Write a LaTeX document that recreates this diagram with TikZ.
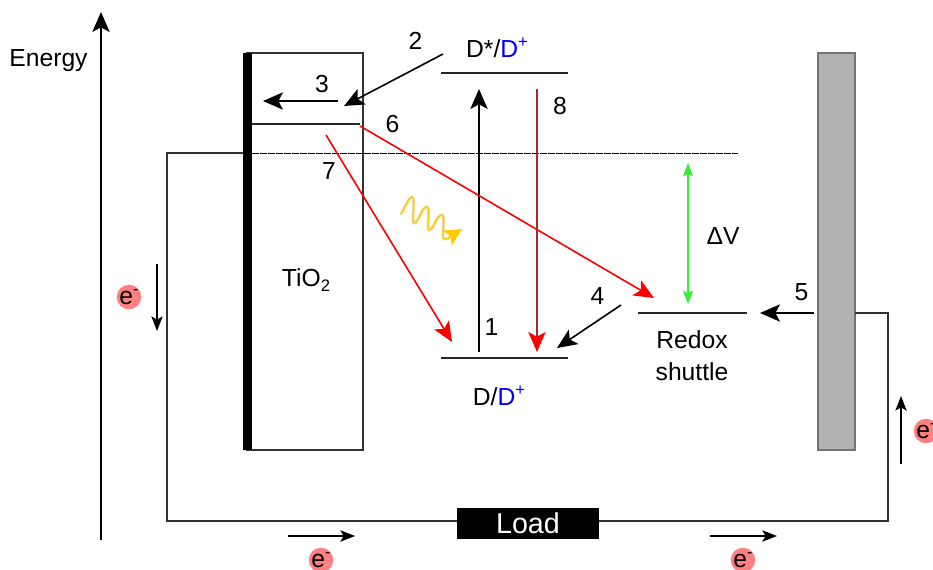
\documentclass[tikz,border=0pt]{standalone}
\usepackage{fontspec}
\setmainfont{Liberation Sans}
\usetikzlibrary{arrows.meta}
\definecolor{dsred}{HTML}{FF0000}
\definecolor{dsbrown}{HTML}{A52A2A}
\definecolor{dsgreen}{HTML}{33EE33}
\definecolor{dsgold}{HTML}{FFCC00}
\definecolor{dssoft}{HTML}{F0DFA0}
\definecolor{dsgray}{HTML}{B2B2B2}
\definecolor{dspink}{HTML}{FF8080}
\tikzset{
  lbl/.style={font=\fontsize{18.5}{24}\selectfont,inner sep=0pt},
  elec/.style={circle,fill=dspink,inner sep=0pt,minimum size=16pt,font=\fontsize{18.5}{19}\selectfont},
  wire/.style={line width=0.85pt,draw=black!80},
  level/.style={line width=0.9pt,draw=black!85},
  bigtip/.style={-{Stealth[length=15pt,width=13pt,inset=3.5pt]}},
  thin tip/.style={-{Stealth[length=11pt,width=8.5pt,inset=2.5pt]}}
}
\newcommand{\eminus}{e\raisebox{0.42em}{\fontsize{12}{12}\selectfont -}}
\newcommand{\dplus}{\textcolor{blue}{D\raisebox{0.42em}{\fontsize{12.5}{12}\selectfont +}}}
\begin{document}
\begin{tikzpicture}[x=0.75pt,y=-0.75pt]
  \useasboundingbox (0,0) rectangle (933,569);
  % levels and boxes
  \node[draw=black!80,line width=0.9pt,minimum width=87pt,minimum height=297.75pt,inner sep=0pt] (tio) at (305,251.5) {};
  \node[fill=black,minimum width=6.75pt,minimum height=297.75pt,inner sep=0pt] (bar) at (247.5,251.5) {};
  \node[draw=black!55,fill=dsgray,line width=0.9pt,minimum width=27.75pt,minimum height=297.75pt,inner sep=0pt] (elect) at (836.5,251.5) {};
  \node[fill=black,text=white,font=\fontsize{21.5}{24}\selectfont,minimum width=106.5pt,minimum height=23.25pt,inner sep=0pt] (load) at (528,523.5) {Load};
  \coordinate (cbl) at (252,124);
  \coordinate (cbr) at (360,124);
  \draw[level] (cbl) -- (cbr);
  \coordinate (dsl) at (441,73);
  \coordinate (dsr) at (568,73);
  \draw[level] (dsl) -- (dsr);
  \coordinate (dl) at (441,358);
  \coordinate (dr) at (568,358);
  \draw[level] (dl) -- (dr);
  \coordinate (rl) at (638,313);
  \coordinate (rr) at (747,313);
  \draw[level] (rl) -- (rr);
  % circuit
  \coordinate (fl) at (243,153);
  \coordinate (fr) at (738,153);
  \coordinate (fs) at (252,153);
  \coordinate (cw) at (855,313);
  \draw[wire] (fl) -- (167,153) -- (167,521) -- (load.west |- 0,521);
  \draw[wire] (load.east |- 0,521) -- (888,521) -- (888,313) -- (cw);
  \draw[black,line width=0.55pt,dash pattern=on 5pt off 1pt] (fs) -- (fr);
  % axis
  \coordinate (ea) at (101,540);
  \coordinate (eb) at (101,12);
  \draw[line width=1.2pt,bigtip] (ea) -- (eb);
  % arrows
  \coordinate (a1) at (479,352);
  \coordinate (b1) at (479,89);
  \coordinate (a2) at (443,54);
  \coordinate (b2) at (344,106);
  \coordinate (a3) at (338,101);
  \coordinate (b3) at (263,101);
  \coordinate (a4) at (621,305);
  \coordinate (b4) at (557,348);
  \coordinate (a5) at (814,313);
  \coordinate (b5) at (760,313);
  \coordinate (a6) at (360,126);
  \coordinate (b6) at (654,298);
  \coordinate (a7) at (326,135);
  \coordinate (b7) at (452,342);
  \coordinate (a8) at (537,89);
  \coordinate (b8) at (537,352);
  \foreach \a/\b in {a1/b1,a2/b2,a3/b3,a4/b4,a5/b5}{\draw[line width=1.2pt,bigtip] (\a) -- (\b);}
  \foreach \a/\b in {a6/b6,a7/b7}{\draw[dsred,line width=1.2pt,bigtip] (\a) -- (\b);}
  \draw[dsbrown,line width=1.2pt,-{Stealth[length=15pt,width=13pt,inset=3.5pt,dsred]}] (a8) -- (b8);
  \coordinate (vt) at (688,163);
  \coordinate (vb) at (688,304);
  \draw[dsgreen,line width=1.2pt,{Stealth[length=10pt,width=7.5pt,inset=2pt]}-{Stealth[length=10pt,width=7.5pt,inset=2pt]}] (vt) -- (vb);
  % electron flow
  \coordinate (e1a) at (157,264);
  \coordinate (e1b) at (157,331);
  \coordinate (e2a) at (901,464);
  \coordinate (e2b) at (901,396);
  \coordinate (e3a) at (288,536);
  \coordinate (e3b) at (355,536);
  \coordinate (e4a) at (710,536);
  \coordinate (e4b) at (777,536);
  \foreach \a/\b in {e1a/e1b,e2a/e2b,e3a/e3b,e4a/e4b}{\draw[line width=0.9pt,thin tip] (\a) -- (\b);}
  \node[elec] (e1) at (129,297) {\eminus};
  \node[elec] (e2) at (926,431) {\eminus};
  \node[elec] (e3) at (321,560) {\eminus};
  \node[elec] (e4) at (743,560) {\eminus};
  % light
  \foreach \c/\w in {dssoft/2.2pt,dsgold/0.9pt}{
    \draw[\c,line width=\w,line cap=round] (401,214) .. controls (406,205) and (410,196) .. (412,197)
      .. controls (416,198) and (411,222) .. (414,223)
      .. controls (418,224) and (422,206) .. (427,207)
      .. controls (431,208) and (426,229) .. (429,230)
      .. controls (433,231) and (437,214) .. (442,215)
      .. controls (446,216) and (441,238) .. (444,239)
      .. controls (447,240) and (449,238) .. (451,236);
  }
  \coordinate (sq) at (449,237);
  \coordinate (st) at (462,229);
  \draw[dsgold,line width=1pt,-{Stealth[length=13pt,width=13pt,inset=3pt]}] (sq) -- (st);
  % labels
  \node[lbl] (en) at (48.5,61) {Energy};
  \node[lbl] (n1) at (491.5,327) {1};
  \node[lbl] (n2) at (415.5,41) {2};
  \node[lbl] (n3) at (322,84) {3};
  \node[lbl] (n4) at (597.5,296) {4};
  \node[lbl] (n5) at (801.5,292) {5};
  \node[lbl] (n6) at (392.5,124) {6};
  \node[lbl] (n7) at (329,171) {7};
  \node[lbl] (n8) at (560,106) {8};
  \node[lbl] (tlab) at (306,280) {TiO\raisebox{-0.22em}{\fontsize{12.5}{12}\selectfont 2}};
  \node[lbl] (dstar) at (497,48) {D*/\dplus};
  \node[lbl] (dgnd) at (499,396) {D/\dplus};
  \node[lbl,align=center] (redox) at (692,356) {Redox\\shuttle};
  \node[lbl] (dv) at (723,236) {ΔV};
\end{tikzpicture}
\end{document}
